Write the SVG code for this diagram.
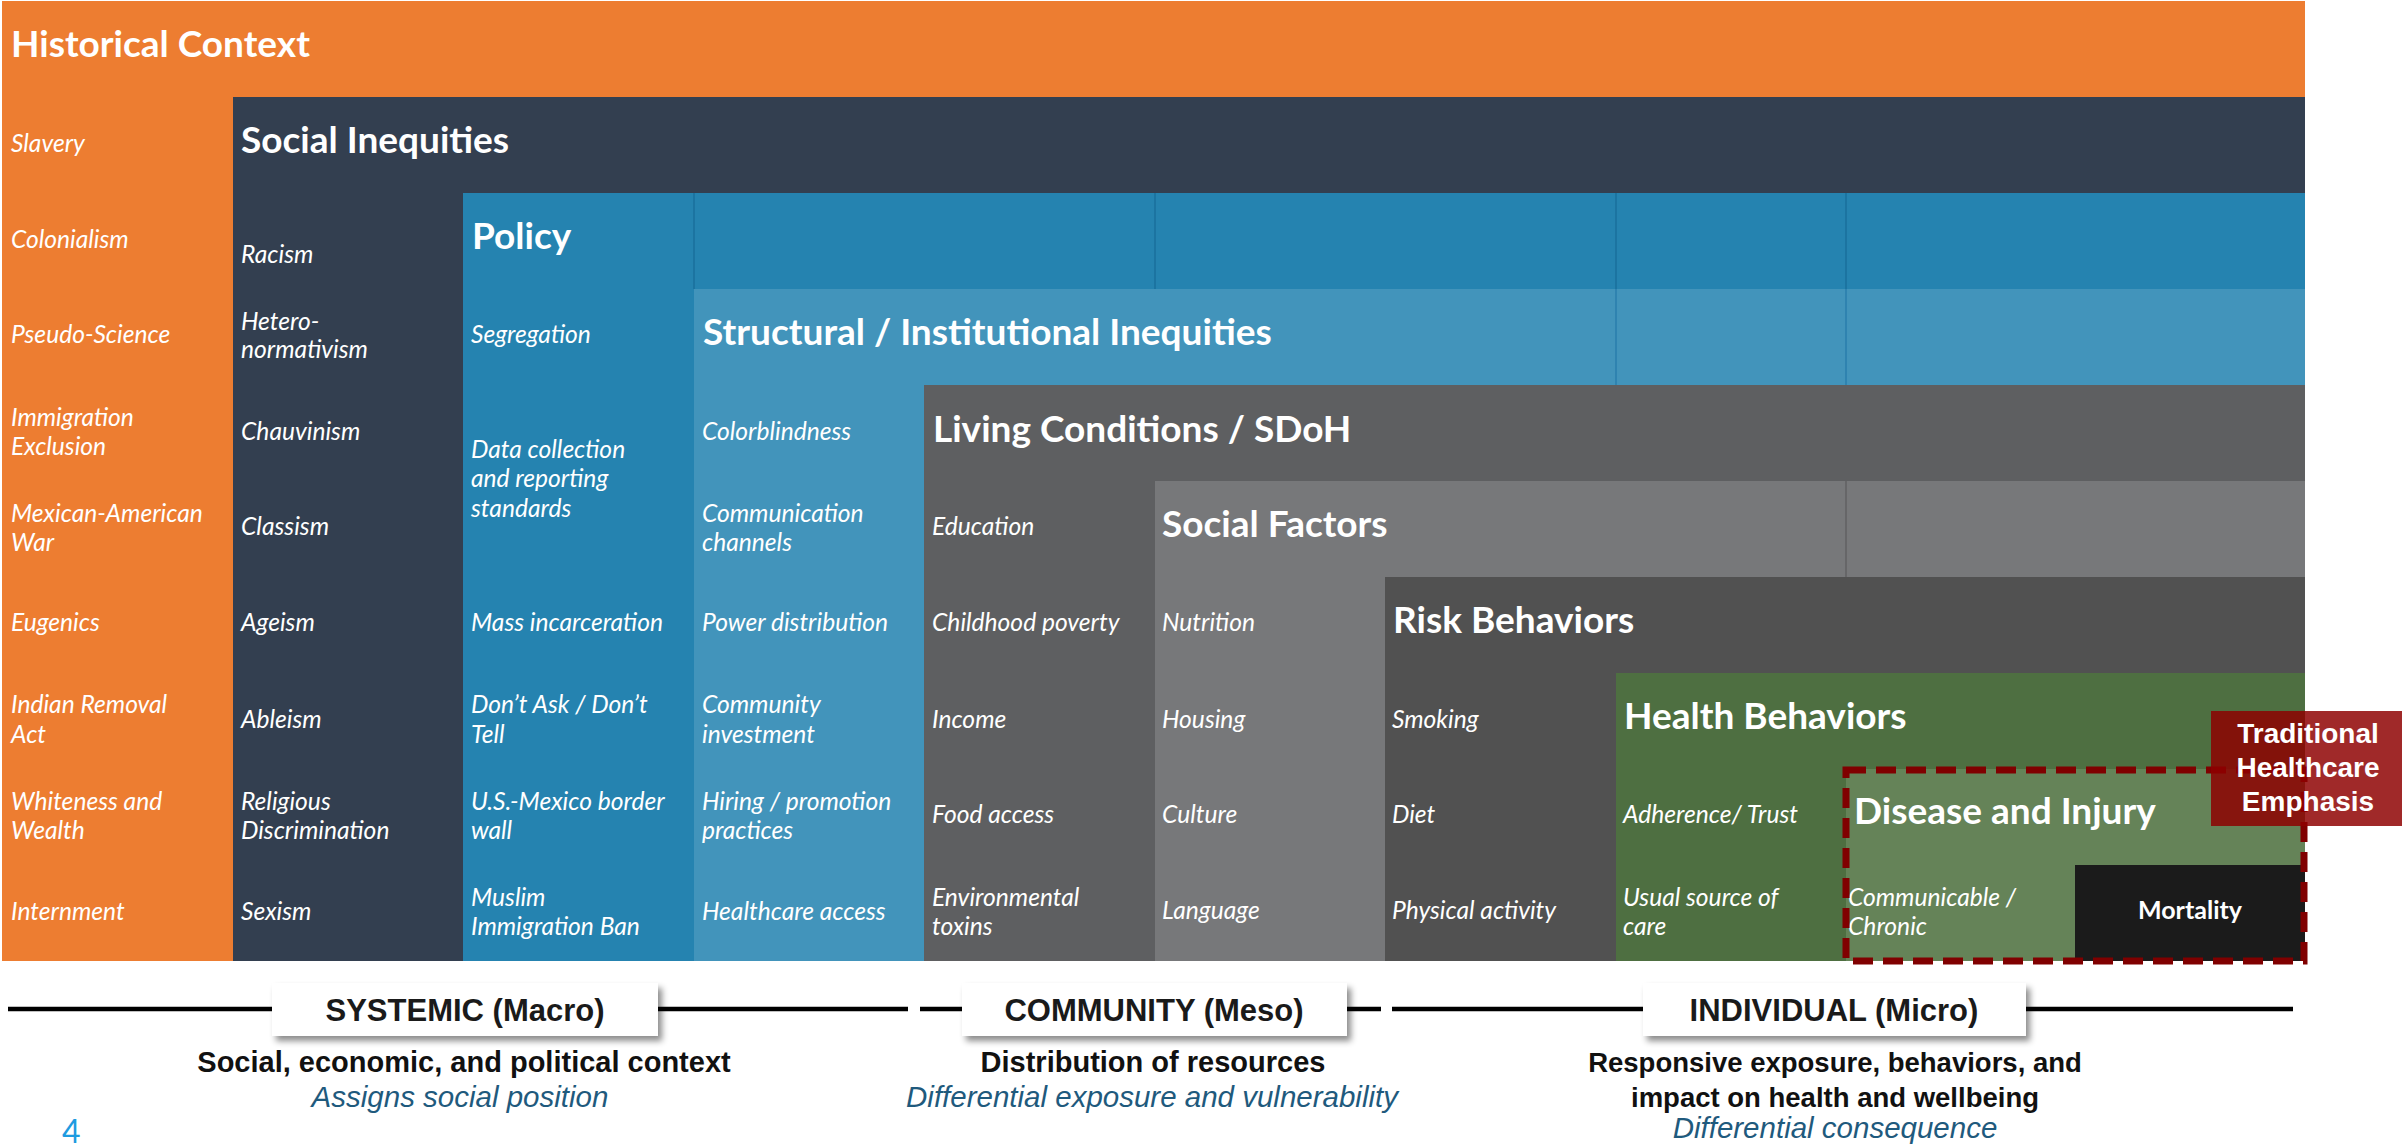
<svg xmlns="http://www.w3.org/2000/svg" width="2402" height="1146" viewBox="0 0 2402 1146">
<style>
.h{font-family:Lato,"Open Sans",sans-serif;font-weight:bold;font-size:37px;fill:#fff}
.it{font-family:Lato,"Open Sans",sans-serif;font-style:italic;font-size:24.6px;fill:#fff}
.lbl{font-family:"Liberation Sans",Arial,sans-serif;font-weight:bold;font-size:31px;fill:#1a1a1a;text-anchor:middle}
.sub{font-family:"Liberation Sans",Arial,sans-serif;font-weight:bold;font-size:29px;fill:#111;text-anchor:middle}
.sub2{font-family:"Liberation Sans",Arial,sans-serif;font-weight:bold;font-size:27.5px;fill:#111;text-anchor:middle}
.subi{font-family:"Liberation Sans",Arial,sans-serif;font-style:italic;font-size:29.5px;fill:#1f5a7d;text-anchor:middle}
.div{stroke-width:1.5}
.lvl{fill:#fff;filter:url(#sh)}
</style>
<defs>
<filter id="sh" x="-10%" y="-30%" width="125%" height="170%">
<feDropShadow dx="4" dy="5" stdDeviation="3" flood-color="#000" flood-opacity="0.45"/>
</filter>
</defs>
<rect width="2402" height="1146" fill="#fff"/>

<g id="historical-context">
<rect x="2" y="1" width="2303" height="960" fill="#ED7D31"/>
<text class="h" x="11" y="57">Historical Context</text>
<text class="it" x="11" y="152">Slavery</text>
<text class="it" x="11" y="248">Colonialism</text>
<text class="it" x="11" y="343">Pseudo-Science</text>
<text class="it" x="11" y="426">Immigration</text>
<text class="it" x="11" y="455">Exclusion</text>
<text class="it" x="11" y="522">Mexican-American</text>
<text class="it" x="11" y="551">War</text>
<text class="it" x="11" y="631">Eugenics</text>
<text class="it" x="11" y="713">Indian Removal</text>
<text class="it" x="11" y="743">Act</text>
<text class="it" x="11" y="810">Whiteness and</text>
<text class="it" x="11" y="839">Wealth</text>
<text class="it" x="11" y="920">Internment</text>
</g>

<g id="social-inequities">
<rect x="233" y="97" width="2072" height="864" fill="#333F50"/>
<text class="h" x="241" y="153">Social Inequities</text>
<text class="it" x="241" y="263">Racism</text>
<text class="it" x="241" y="330">Hetero-</text>
<text class="it" x="241" y="358">normativism</text>
<text class="it" x="241" y="440">Chauvinism</text>
<text class="it" x="241" y="535">Classism</text>
<text class="it" x="241" y="631">Ageism</text>
<text class="it" x="241" y="728">Ableism</text>
<text class="it" x="241" y="810">Religious</text>
<text class="it" x="241" y="839">Discrimination</text>
<text class="it" x="241" y="920">Sexism</text>
</g>

<g id="policy">
<rect x="463" y="193" width="1842" height="768" fill="#2583B0"/>
<g stroke="#1a6f9c" class="div">
<line x1="694" y1="193" x2="694" y2="289"/>
<line x1="1155" y1="193" x2="1155" y2="289"/>
<line x1="1616" y1="193" x2="1616" y2="289"/>
<line x1="1846" y1="193" x2="1846" y2="289"/>
</g>
<text class="h" x="472" y="249">Policy</text>
<text class="it" x="471" y="343">Segregation</text>
<text class="it" x="471" y="458">Data collection</text>
<text class="it" x="471" y="487">and reporting</text>
<text class="it" x="471" y="517">standards</text>
<text class="it" x="471" y="631">Mass incarceration</text>
<text class="it" x="471" y="713">Don’t Ask / Don’t</text>
<text class="it" x="471" y="743">Tell</text>
<text class="it" x="471" y="810">U.S.-Mexico border</text>
<text class="it" x="471" y="839">wall</text>
<text class="it" x="471" y="906">Muslim</text>
<text class="it" x="471" y="935">Immigration Ban</text>
</g>

<g id="structural-institutional-inequities">
<rect x="694" y="289" width="1611" height="672" fill="#4294BB"/>
<g stroke="#2a7eac" class="div">
<line x1="1616" y1="289" x2="1616" y2="385"/>
<line x1="1846" y1="289" x2="1846" y2="385"/>
</g>
<text class="h" x="703" y="345">Structural / Institutional Inequities</text>
<text class="it" x="702" y="440">Colorblindness</text>
<text class="it" x="702" y="522">Communication</text>
<text class="it" x="702" y="551">channels</text>
<text class="it" x="702" y="631">Power distribution</text>
<text class="it" x="702" y="713">Community</text>
<text class="it" x="702" y="743">investment</text>
<text class="it" x="702" y="810">Hiring / promotion</text>
<text class="it" x="702" y="839">practices</text>
<text class="it" x="702" y="920">Healthcare access</text>
</g>

<g id="living-conditions">
<rect x="924" y="385" width="1381" height="576" fill="#5E5F61"/>
<text class="h" x="933" y="442">Living Conditions / SDoH</text>
<text class="it" x="932" y="535">Education</text>
<text class="it" x="932" y="631">Childhood poverty</text>
<text class="it" x="932" y="728">Income</text>
<text class="it" x="932" y="823">Food access</text>
<text class="it" x="932" y="906">Environmental</text>
<text class="it" x="932" y="935">toxins</text>
</g>

<g id="social-factors">
<rect x="1155" y="481" width="1150" height="480" fill="#77787A"/>
<line x1="1846" y1="481" x2="1846" y2="577" stroke="#606163" class="div"/>
<text class="h" x="1162" y="537">Social Factors</text>
<text class="it" x="1162" y="631">Nutrition</text>
<text class="it" x="1162" y="728">Housing</text>
<text class="it" x="1162" y="823">Culture</text>
<text class="it" x="1162" y="919">Language</text>
</g>

<g id="risk-behaviors">
<rect x="1385" y="577" width="920" height="384" fill="#515151"/>
<text class="h" x="1393" y="633">Risk Behaviors</text>
<text class="it" x="1392" y="728">Smoking</text>
<text class="it" x="1392" y="823">Diet</text>
<text class="it" x="1392" y="919">Physical activity</text>
</g>

<g id="health-behaviors">
<rect x="1616" y="673" width="689" height="288" fill="#4E6F41"/>
<text class="h" x="1624" y="729">Health Behaviors</text>
<text class="it" x="1623" y="823">Adherence/ Trust</text>
<text class="it" x="1623" y="906">Usual source of</text>
<text class="it" x="1623" y="935">care</text>
</g>

<g id="disease-and-injury">
<rect x="1846" y="769" width="459" height="192" fill="#658358"/>
<text class="h" x="1854" y="824">Disease and Injury</text>
<text class="it" x="1848" y="906">Communicable /</text>
<text class="it" x="1848" y="935">Chronic</text>
</g>

<g id="mortality">
<rect x="2075" y="865" width="230" height="96" fill="#1B1B1B"/>
<text x="2190" y="919" font-family="Lato,'Open Sans',sans-serif" font-weight="bold" font-size="25" fill="#fff" text-anchor="middle">Mortality</text>
</g>

<g id="traditional-healthcare-emphasis">
<rect x="1846" y="770" width="458" height="191" fill="none" stroke="#800000" stroke-width="7" stroke-dasharray="20 10"/>
<rect x="2211" y="711" width="191" height="115" fill="rgb(142,0,0)" fill-opacity="0.84"/>
<g font-family="'Liberation Sans',Arial,sans-serif" font-weight="bold" font-size="28" fill="#fff" text-anchor="middle">
<text x="2308" y="743">Traditional</text>
<text x="2308" y="777">Healthcare</text>
<text x="2308" y="811">Emphasis</text>
</g>
</g>

<g id="connectors" stroke="#000" stroke-width="4.5" fill="none">
<line x1="8" y1="1009" x2="908" y2="1009"/>
<line x1="920" y1="1009" x2="1381" y2="1009"/>
<line x1="1392" y1="1009" x2="2293" y2="1009"/>
</g>

<g id="systemic">
<rect class="lvl" x="272" y="983" width="386" height="53"/>
<text class="lbl" x="465" y="1021">SYSTEMIC (Macro)</text>
<text class="sub" x="464" y="1072">Social, economic, and political context</text>
<text class="subi" x="460" y="1107">Assigns social position</text>
</g>

<g id="community">
<rect class="lvl" x="962" y="983" width="385" height="53"/>
<text class="lbl" x="1154" y="1021">COMMUNITY (Meso)</text>
<text class="sub" x="1153" y="1072">Distribution of resources</text>
<text class="subi" x="1152" y="1107">Differential exposure and vulnerability</text>
</g>

<g id="individual">
<rect class="lvl" x="1643" y="983" width="383" height="53"/>
<text class="lbl" x="1834" y="1021">INDIVIDUAL (Micro)</text>
<text class="sub2" x="1835" y="1072">Responsive exposure, behaviors, and</text>
<text class="sub2" x="1835" y="1107">impact on health and wellbeing</text>
<text class="subi" x="1835" y="1138">Differential consequence</text>
</g>

<text x="62" y="1143" font-family="Lato,'Open Sans',sans-serif" font-size="32" fill="#1E9BE0">4</text>
</svg>
